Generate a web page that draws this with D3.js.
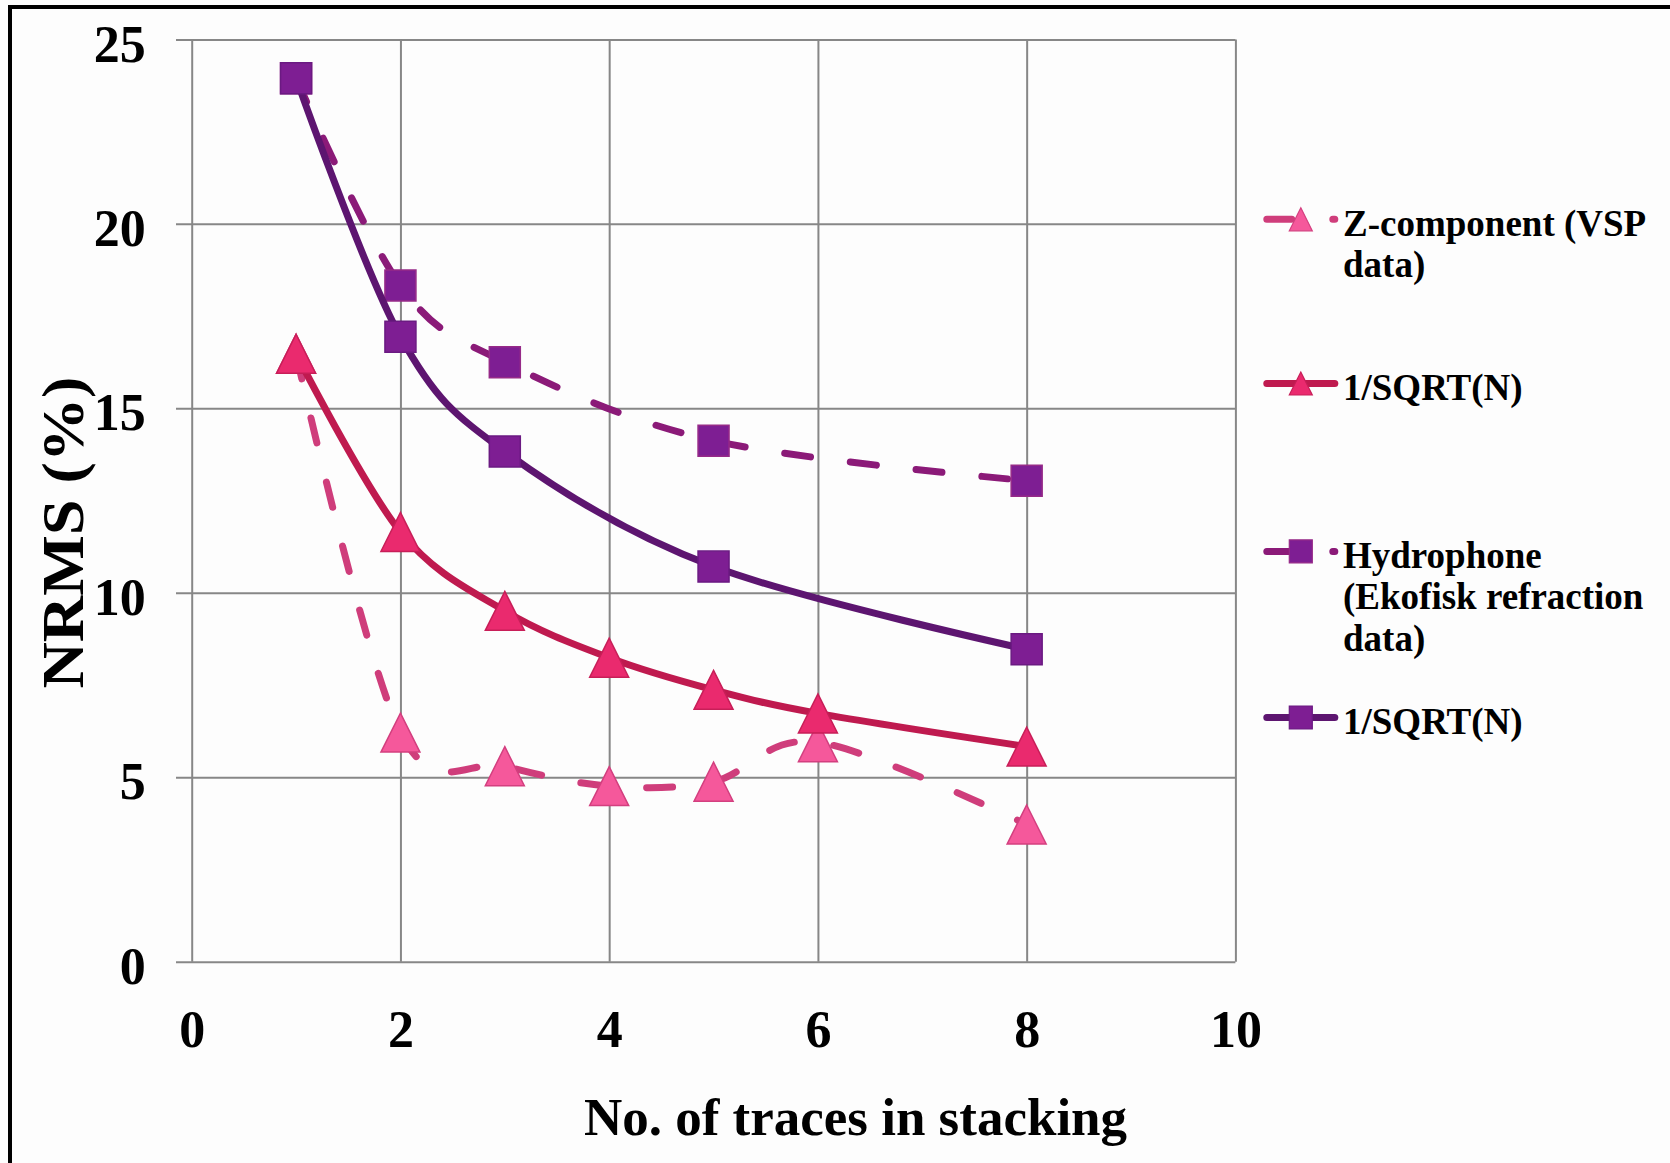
<!DOCTYPE html>
<html>
<head>
<meta charset="utf-8">
<script src="https://cdn.jsdelivr.net/npm/d3@7"></script>
<style>
  body { margin: 0; background: #fdfdfd; }
  svg { display: block; }
  text { font-family: "Liberation Serif", "Times New Roman", serif; font-weight: bold; fill: #000; }
</style>
</head>
<body>
<svg id="chart" width="1670" height="1163"></svg>
<script>
// Stacking counts and NRMS values (%)
const stackCounts = [1, 2, 3, 4, 5, 6, 8];
const zComponent  = [16.48, 6.21, 5.30, 4.76, 4.88, 5.95, 3.72];
const zSqrt       = [16.48, 11.65, 9.51, 8.24, 7.37, 6.73, 5.83];

const hydroCounts = [1, 2, 3, 5, 8];
const hydrophone  = [23.95, 18.33, 16.25, 14.12, 13.04];
const hydroSqrt   = [23.95, 16.94, 13.83, 10.71, 8.47];

const xTicks = [0, 2, 4, 6, 8, 10];
const yTicks = [0, 5, 10, 15, 20, 25];

const legendLines = [
  ["Z-component (VSP", "data)"],
  ["1/SQRT(N)"],
  ["Hydrophone", "(Ekofisk refraction", "data)"],
  ["1/SQRT(N)"]
];

const xTitle = "No. of traces in stacking";
const yTitle = "NRMS (%)";

// Series styling
const series = [
  { xs: stackCounts, ys: zComponent, dashed: true,  shape: "tri",
    line: "#cf3d7b", fill: "#f5589b", stroke: "#d33f7f" },
  { xs: stackCounts, ys: zSqrt,      dashed: false, shape: "tri",
    line: "#bf1a4f", fill: "#ea2a6e", stroke: "#c81e58" },
  { xs: hydroCounts, ys: hydrophone, dashed: true,  shape: "sq",
    line: "#8b1a78", fill: "#7e1e93", stroke: "#962a88" },
  { xs: hydroCounts, ys: hydroSqrt,  dashed: false, shape: "sq",
    line: "#5d1570", fill: "#7e1e93", stroke: "#6b1a82" }
];

const svg = d3.select("#chart");

// Outer frame (runs off the right and bottom edges)
svg.append("rect")
  .attr("x", 10).attr("y", 7).attr("width", 1700).attr("height", 1200)
  .attr("fill", "none").attr("stroke", "#000").attr("stroke-width", 4);

const x = d3.scaleLinear().domain([0, 10]).range([191.7, 1235.4]);
const y = d3.scaleLinear().domain([0, 25]).range([961.7, 39.4]);
const gridLeft = 176;
const gridColor = "#878787";

// Y axis with horizontal gridlines
const yAxis = svg.append("g")
  .attr("transform", `translate(${gridLeft},0)`)
  .call(d3.axisLeft(y).tickValues(yTicks)
    .tickSizeInner(-(x(10) - gridLeft)).tickSizeOuter(0).tickPadding(30.3));
yAxis.select(".domain").remove();
yAxis.selectAll(".tick line").attr("stroke", gridColor).attr("stroke-width", 2);
yAxis.selectAll(".tick text")
  .attr("dy", null).attr("y", 21.6)
  .style("font-size", "52px").style("font-family", "Liberation Serif, serif")
  .style("font-weight", "bold").attr("fill", "#000");

// X axis with vertical gridlines
const xAxis = svg.append("g")
  .attr("transform", `translate(0,${y(0)})`)
  .call(d3.axisBottom(x).tickValues(xTicks)
    .tickSizeInner(-(y(0) - y(25))).tickSizeOuter(0).tickPadding(0));
xAxis.select(".domain").remove();
xAxis.selectAll(".tick line").attr("stroke", gridColor).attr("stroke-width", 2);
xAxis.selectAll(".tick text")
  .attr("dy", null).attr("y", 85)
  .style("font-size", "52px").style("font-family", "Liberation Serif, serif")
  .style("font-weight", "bold").attr("fill", "#000");

// Axis titles
svg.append("text")
  .attr("x", 855.5).attr("y", 1135)
  .attr("text-anchor", "middle")
  .style("font-size", "53px")
  .text(xTitle);

svg.append("text")
  .attr("transform", "translate(83,532.5) rotate(-90)")
  .attr("text-anchor", "middle")
  .attr("textLength", 312).attr("lengthAdjust", "spacingAndGlyphs")
  .style("font-size", "59px")
  .text(yTitle);

// Marker shapes centred on their bounding box
function markerPath(shape, s) {
  const h = s / 2;
  if (shape === "tri") return `M0,${-h}L${h},${h}L${-h},${h}Z`;
  return `M${-h},${-h}H${h}V${h}H${-h}Z`;
}

// Smoothed lines
const lineGen = d3.line()
  .x(d => x(d[0])).y(d => y(d[1]))
  .curve(d3.curveCardinal.tension(0));

series.forEach(s => {
  const pts = s.xs.map((v, i) => [v, s.ys[i]]);
  const g = svg.append("g");
  g.append("path")
    .attr("d", lineGen(pts))
    .attr("fill", "none")
    .attr("stroke", s.line)
    .attr("stroke-width", 7)
    .attr("stroke-linecap", "round")
    .attr("stroke-linejoin", "round")
    .attr("stroke-dasharray", s.dashed ? "26,40" : null);
  g.selectAll("path.marker").data(pts).join("path")
    .attr("class", "marker")
    .attr("transform", d => `translate(${x(d[0])},${y(d[1])})`)
    .attr("d", markerPath(s.shape, s.shape === "tri" ? 39 : 31))
    .attr("fill", s.fill)
    .attr("stroke", s.stroke)
    .attr("stroke-width", 1.5);
});

// Legend
const legendRows = [219.3, 383.5, 551.4, 717.5];
const legend = svg.append("g");
series.forEach((s, i) => {
  const ly = legendRows[i];
  legend.append("line")
    .attr("x1", 1266.8).attr("x2", 1334.8).attr("y1", ly).attr("y2", ly)
    .attr("stroke", s.line).attr("stroke-width", 7)
    .attr("stroke-linecap", "round")
    .attr("stroke-dasharray", s.dashed ? "25,41" : null);
  legend.append("path")
    .attr("transform", `translate(1300.8,${ly})`)
    .attr("d", markerPath(s.shape, 23))
    .attr("fill", s.fill).attr("stroke", s.stroke).attr("stroke-width", 1.2);
  const t = legend.append("text")
    .attr("x", 1343).attr("y", ly + 16.5)
    .style("font-size", "37px");
  legendLines[i].forEach((ln, j) => {
    t.append("tspan").attr("x", 1343).attr("dy", j === 0 ? 0 : 41.5).text(ln);
  });
});
</script>
</body>
</html>
